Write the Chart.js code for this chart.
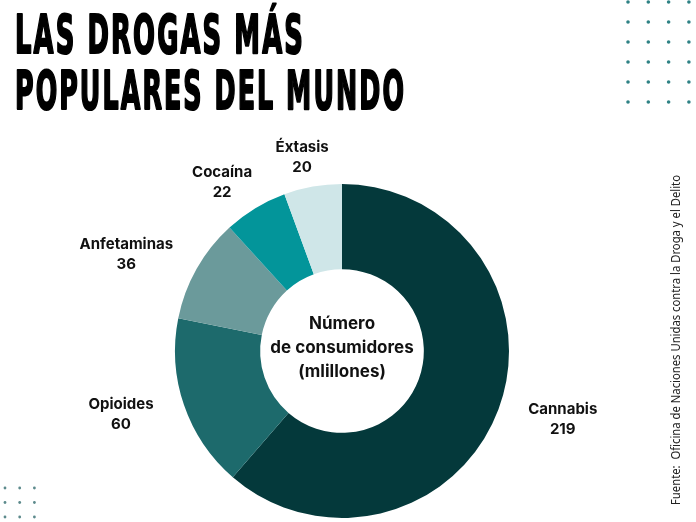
<!DOCTYPE html>
<html>
<head>
<meta charset="utf-8">
<script src="https://cdn.jsdelivr.net/npm/chart.js@4.4.1/dist/chart.umd.min.js"></script>
<style>
  html, body { margin: 0; padding: 0; background: #ffffff; }
  #wrap { width: 696px; height: 522px; position: relative; }
</style>
</head>
<body>
<div id="wrap"><canvas id="chart-area"></canvas></div>
<script>
// data
var drogas = ['Cannabis', 'Opioides', 'Anfetaminas', 'Cocaína', 'Éxtasis'];
var consumidores = [219, 60, 36, 22, 20];
var colores = ['#04393b', '#1d6a6c', '#6b9a9b', '#03959a', '#cfe6e8'];

var titulo = ['LAS DROGAS MÁS', 'POPULARES DEL MUNDO'];
var centro = ['Número', 'de consumidores', '(mlillones)'];
var fuente = 'Fuente:  Oficina de Naciones Unidas contra la Droga y el Delito';

var labelFont = "bold 15px Inter, 'Noto Sans', sans-serif";

// title, dots, source text
var decoPlugin = {
    id: 'deco',
    beforeDraw: function(chart) {
        var ctx = chart.ctx;
        ctx.save();
        ctx.fillStyle = '#000';
        ctx.strokeStyle = '#000';
        ctx.lineWidth = 2.2;
        ctx.lineJoin = 'round';
        ctx.textAlign = 'left';
        ctx.textBaseline = 'alphabetic';
        ctx.letterSpacing = '4px';
        ctx.font = "bold 54px 'Liberation Sans Narrow', 'DejaVu Sans Condensed', sans-serif";
        ctx.fillText(titulo[0], 15, 53, 290);
        ctx.strokeText(titulo[0], 15, 53, 290);
        ctx.fillText(titulo[1], 15, 109, 391);
        ctx.strokeText(titulo[1], 15, 109, 391);
        ctx.letterSpacing = '0px';

        // dot grids
        ctx.fillStyle = '#2f8285';
        for (var r = 0; r < 6; r++) {
            for (var c = 0; c < 4; c++) {
                ctx.beginPath();
                ctx.arc(628 + c * 20.3, 2 + r * 20, 1.8, 0, Math.PI * 2);
                ctx.fill();
            }
        }
        ctx.fillStyle = '#5c8a8c';
        for (var r2 = 0; r2 < 3; r2++) {
            for (var c2 = 0; c2 < 3; c2++) {
                ctx.beginPath();
                ctx.arc(5 + c2 * 14.7, 488 + r2 * 14.5, 1.4, 0, Math.PI * 2);
                ctx.fill();
            }
        }

        // source, rotated
        ctx.translate(677, 340);
        ctx.rotate(-Math.PI / 2);
        ctx.fillStyle = '#222';
        ctx.textAlign = 'center';
        ctx.textBaseline = 'middle';
        ctx.font = "12px 'Noto Sans', sans-serif";
        ctx.fillText(fuente, 0, 0, 330);
        ctx.restore();
    }
};

// slice labels + center text
var labelPlugin = {
    id: 'sliceLabels',
    afterDatasetsDraw: function(chart) {
        var ctx = chart.ctx;
        var meta = chart.getDatasetMeta(0);
        ctx.save();
        ctx.fillStyle = '#111';
        ctx.textAlign = 'center';
        ctx.textBaseline = 'middle';
        ctx.font = labelFont;
        meta.data.forEach(function(arc, i) {
            var p = arc.getProps(['x', 'y', 'startAngle', 'endAngle', 'outerRadius'], true);
            var mid = (p.startAngle + p.endAngle) / 2;
            var halfW = ctx.measureText(drogas[i]).width / 2;
            var lx = p.x + Math.cos(mid) * (p.outerRadius + 34 + halfW);
            var ly = p.y + Math.sin(mid) * (p.outerRadius + 30);
            ctx.fillText(drogas[i], lx, ly - 10);
            ctx.fillText(String(consumidores[i]), lx, ly + 10);
        });

        var a = meta.data[0];
        ctx.font = "bold 17px Inter, 'Noto Sans', sans-serif";
        ctx.fillText(centro[0], a.x, a.y - 27);
        ctx.fillText(centro[1], a.x, a.y - 3);
        ctx.fillText(centro[2], a.x, a.y + 21);
        ctx.restore();
    }
};

var ctx2 = document.getElementById('chart-area').getContext('2d');
window.myDonut = new Chart(ctx2, {
    type: 'doughnut',
    data: {
        labels: drogas,
        datasets: [{
            data: consumidores,
            backgroundColor: colores,
            borderWidth: 0
        }]
    },
    options: {
        responsive: true,
        maintainAspectRatio: false,
        animation: false,
        cutout: '49%',
        layout: { padding: { left: 175, right: 187, top: 184, bottom: 4 } },
        plugins: {
            legend: { display: false },
            tooltip: { enabled: false }
        }
    },
    plugins: [decoPlugin, labelPlugin]
});
</script>
</body>
</html>
